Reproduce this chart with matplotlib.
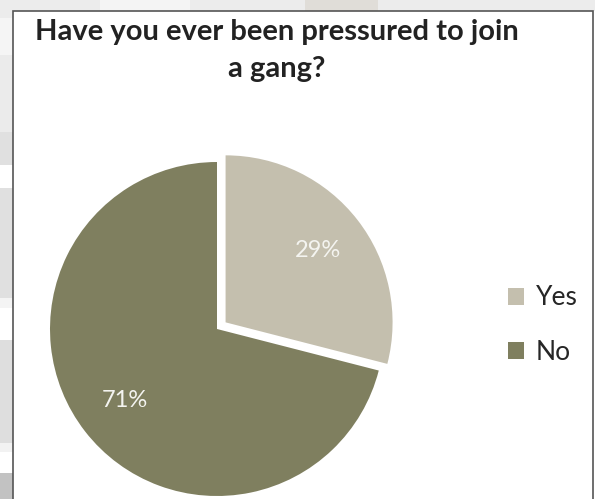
import matplotlib
matplotlib.use("Agg")
import matplotlib.pyplot as plt
from matplotlib.patches import Rectangle

# survey answers
answers = ["Yes", "No"]
shares = [29, 71]
colors = ["#c4bfae", "#7f7f5f"]
title_lines = ["Have you ever been pressured to join", "a gang?"]

W, H = 595, 499
plt.rcParams['font.family'] = ['Lato', 'DejaVu Sans']

fig = plt.figure(figsize=(W / 100, H / 100), dpi=100)
fig.patch.set_facecolor("white")


def px_rect(x, y, w, h, **kw):
    # rectangle given in pixels from the top-left corner
    r = Rectangle((x / W, 1 - (y + h) / H), w / W, h / H,
                  transform=fig.transFigure, zorder=-5, **kw)
    fig.add_artist(r)
    return r


## page background behind the chart box
bands = [(0, 18, "#ececec"), (18, 37, "#f5f5f5"), (55, 77, "#ebebeb"),
         (132, 33, "#e0e0e0"), (165, 23, "#ffffff"), (188, 110, "#e0e0e0"),
         (298, 10, "#f4f4f4"), (308, 32, "#ffffff"), (340, 103, "#dedede"),
         (443, 9, "#f2f2f2"), (452, 21, "#ffffff"), (473, 26, "#c2c2c2")]
for y, h, c in bands:
    px_rect(0, y, 13, h, facecolor=c, edgecolor="none")
px_rect(0, 0, W, 11, facecolor="#ececec", edgecolor="none")
px_rect(305, 0, 73, 11, facecolor="#e0ddd8", edgecolor="none")
px_rect(100, 0, 90, 11, facecolor="#f4f4f4", edgecolor="none")

## chart box
px_rect(13, 11, 580, 500, facecolor="white", edgecolor="#555555", linewidth=1.2)

# title, one line at a time on its baseline
for line, base in zip(title_lines, [40, 77]):
    fig.text(277 / W, 1 - base / H, line, ha="center", va="baseline",
             fontsize=21, fontweight="bold", color="#222222")

## pie, radius 167 px centred on (217, 329)
cx, cy, r = 217, 329, 167
half = 1.2 * r
ax = fig.add_axes([(cx - half) / W, 1 - (cy + half) / H, 2 * half / W, 2 * half / H])
ax.set_zorder(5)
wedges, texts, autotexts = ax.pie(shares, colors=colors, startangle=90,
                                  counterclock=False, explode=[0.065, 0],
                                  autopct="%d%%", pctdistance=0.7,
                                  wedgeprops=dict(linewidth=0))
for t in autotexts:
    t.set_color("#f4f4f0")
    t.set_fontsize(17)
ax.set_xlim(-1.2, 1.2)
ax.set_ylim(-1.2, 1.2)
ax.set_aspect("equal")
ax.axis("off")

leg = fig.legend(wedges, answers, loc="center left", bbox_to_anchor=(484 / W, 1 - 325 / H),
                 frameon=False, fontsize=19, handlelength=0.6, handleheight=0.6,
                 handletextpad=0.45, labelspacing=1.1, labelcolor="#262626")
leg.set_zorder(6)

fig.savefig("out.png", dpi=100)
